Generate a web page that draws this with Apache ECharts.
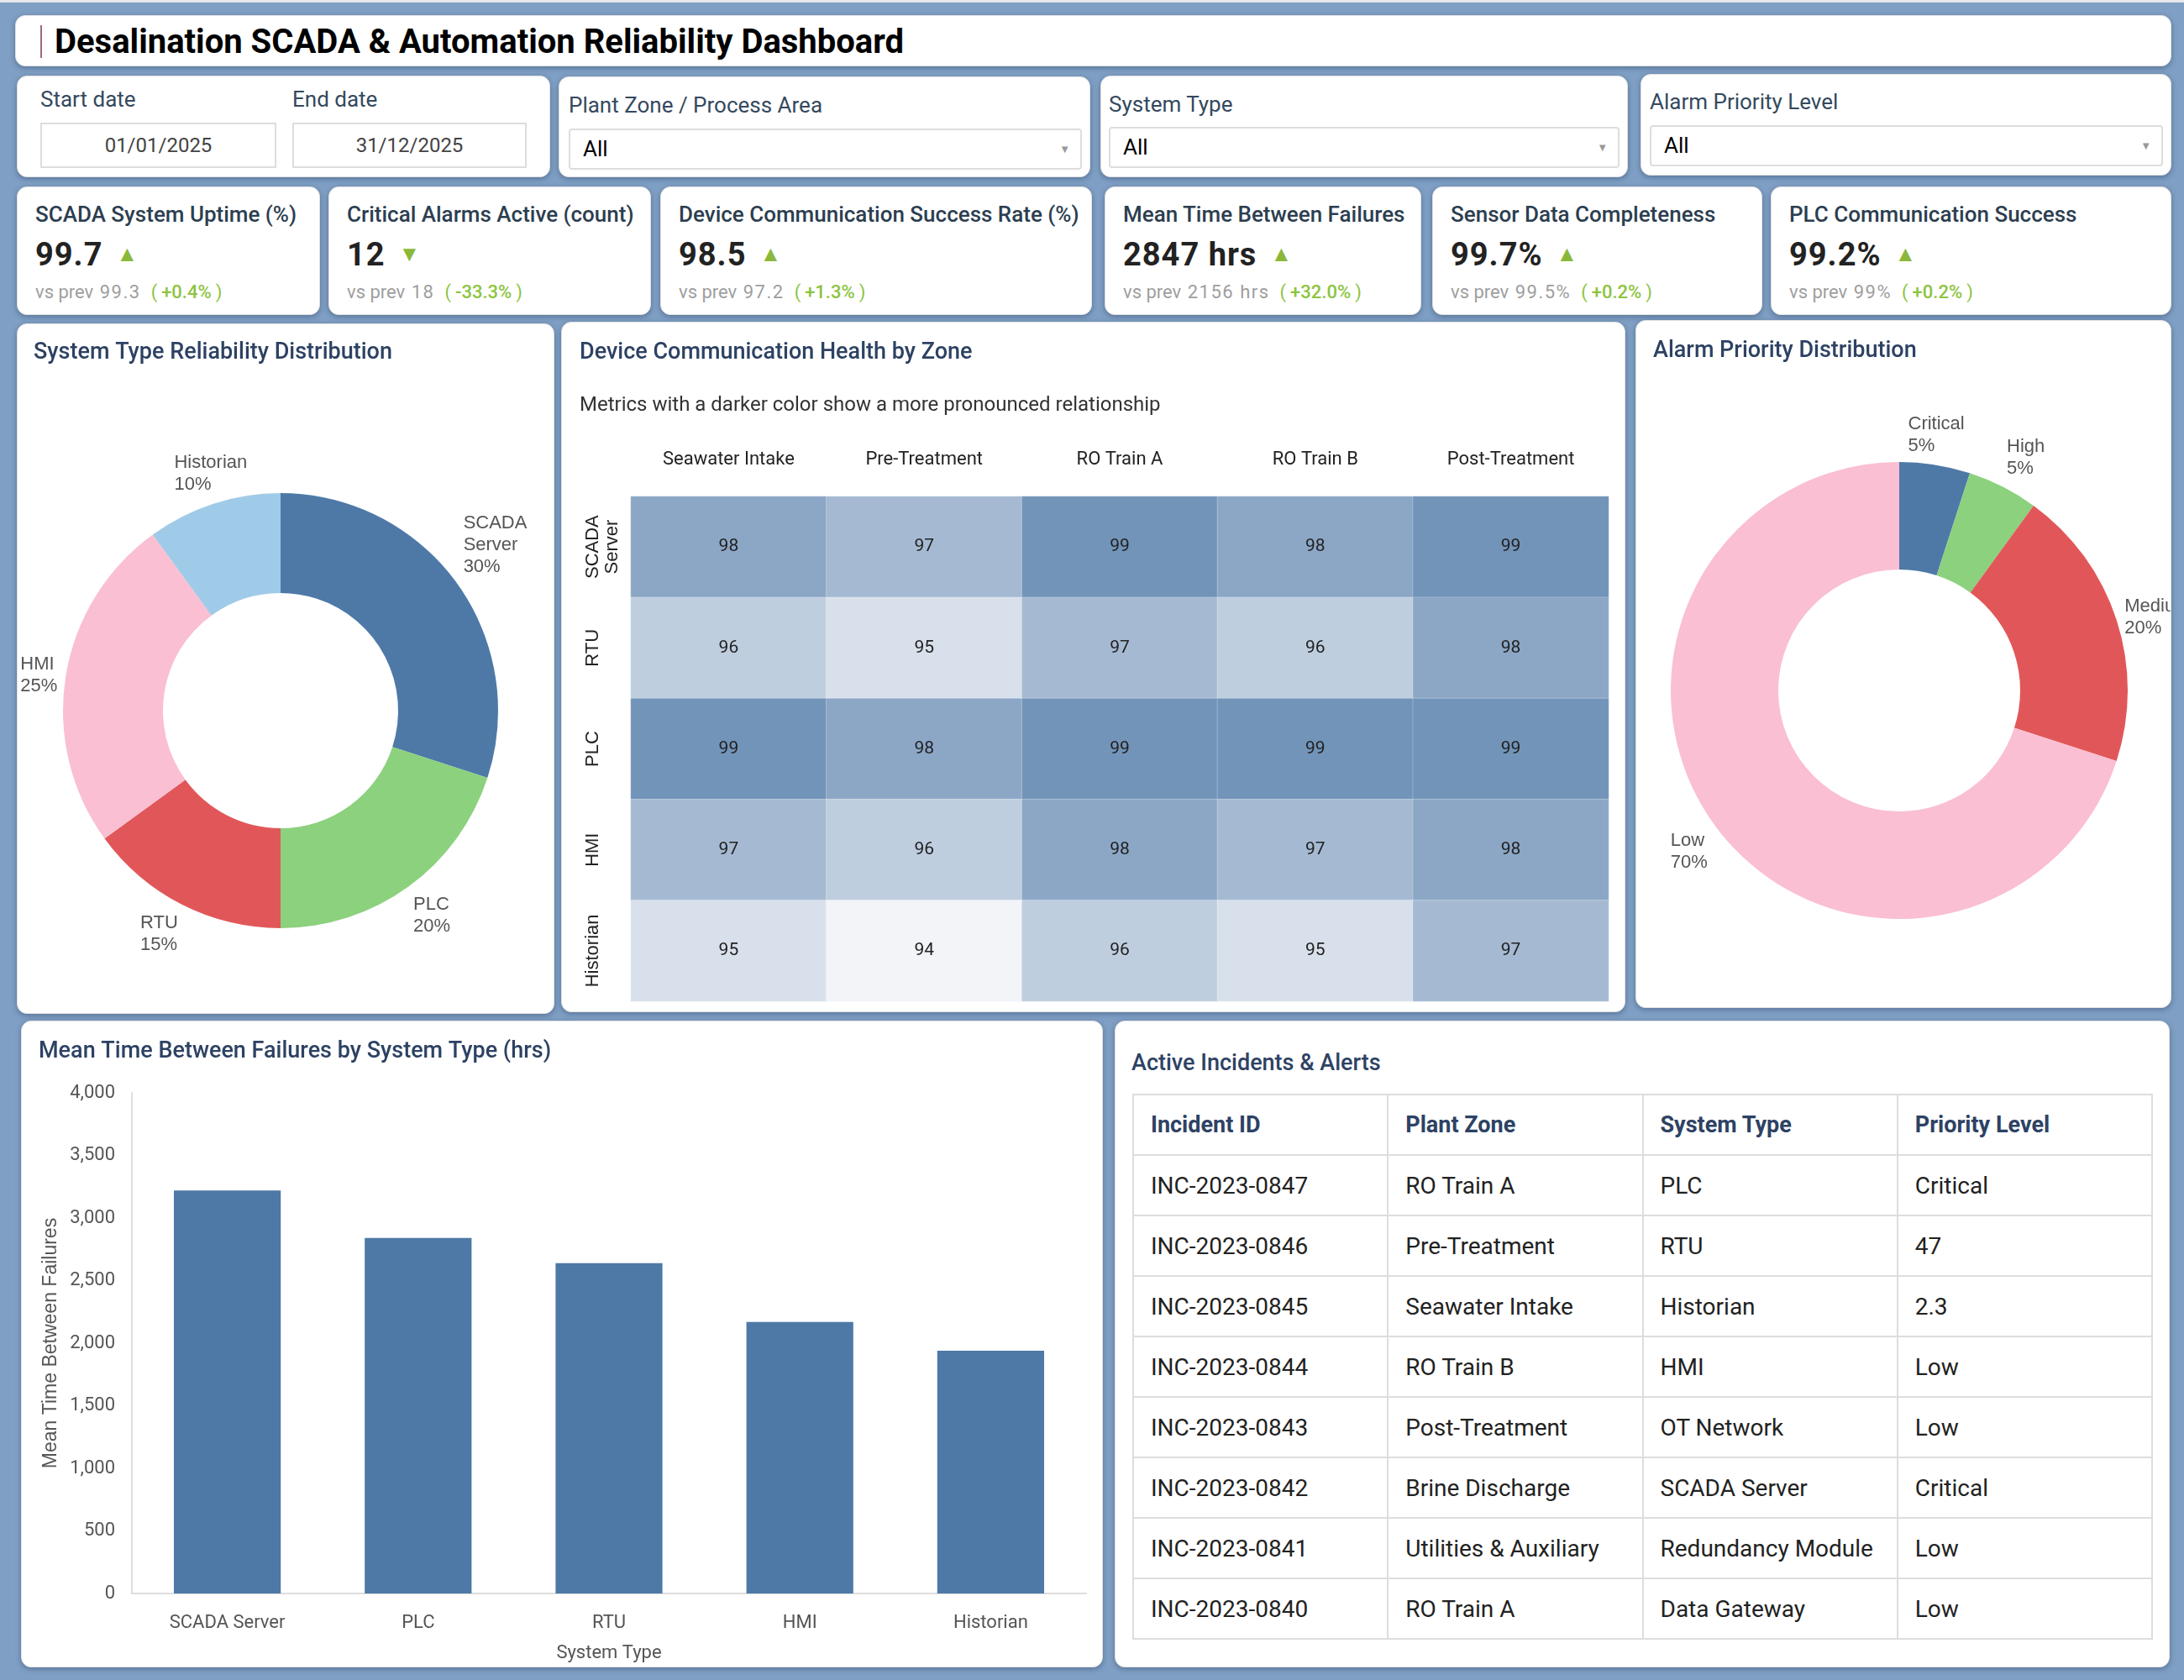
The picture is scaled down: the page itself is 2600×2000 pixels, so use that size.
<!DOCTYPE html>
<html>
<head>
<meta charset="utf-8">
<script src="https://cdn.jsdelivr.net/npm/echarts@6/dist/echarts.min.js"></script>
<style>
  body{margin:0;width:2600px;height:2000px;background:#7f9fc5;font-family:Roboto,sans-serif;position:relative;overflow:hidden}
  .strip{position:absolute;left:0;top:0;width:2600px;height:3px;background:#e6e8ec}
  .card{position:absolute;background:#fff;border-radius:12px;box-shadow:0 2px 6px rgba(40,60,90,.45);border:1px solid #e2e2e2;box-sizing:border-box;overflow:hidden}
  .abs{position:absolute;white-space:nowrap}
  .flabel{font-size:26px;color:#34495e}
  .dbox{position:absolute;border:2px solid #ddd;box-sizing:border-box;font-size:24px;color:#444;text-align:center}
  .sel{position:absolute;border:2px solid #ddd;border-radius:4px;box-sizing:border-box;font-size:26px;color:#000}
  .sel .arr{position:absolute;right:12px;top:0;font-size:13px;color:#999}
  .ktitle{font-size:26px;font-weight:500;color:#2c3e50;line-height:28px}
  .kval{font-size:38px;font-weight:700;color:#222;letter-spacing:1px;line-height:40px}
  .ktri{font-size:26px;color:#8bb83a;margin-left:16px;position:relative;top:-5px}
  .kprev{font-size:22px;color:#9e9e9e;line-height:26px}
  .kprev .num{letter-spacing:1.5px;margin-left:2px}
  .kprev .chg{color:#8cc43f;margin-left:12px}
  .kprev .chg b{font-weight:500;margin:0 5px}
  table{border-collapse:collapse;position:absolute;left:20px;top:86px;width:1215px;table-layout:fixed}
  td,th{border:2px solid #ddd;height:70px;padding:0 0 0 20px;text-align:left;font-size:28px;color:#222;font-weight:400}
  th{font-weight:700;color:#2d4263;font-size:27px}
  .ctitle{font-size:27px;font-weight:500;color:#2d4263}
</style>
</head>
<body>
<div class="strip"></div>

<div class="card" style="left:18px;top:18px;width:2567px;height:61px">
  <div class="abs" style="left:29px;top:11px;width:2px;height:39px;background:#9b6b7b"></div>
  <div class="abs" style="left:46px;top:0;line-height:61px;font-size:40px;font-weight:700;color:#000">Desalination SCADA &amp; Automation Reliability Dashboard</div>
</div>

<div class="card" style="left:20px;top:90px;width:635px;height:121px">
  <div class="abs flabel" style="left:27px;top:12px">Start date</div>
  <div class="abs flabel" style="left:327px;top:12px">End date</div>
  <div class="dbox" style="left:27px;top:55px;width:281px;height:54px;line-height:50px">01/01/2025</div>
  <div class="dbox" style="left:327px;top:55px;width:279px;height:54px;line-height:50px">31/12/2025</div>
</div>
<div class="card" style="left:665px;top:91px;width:633px;height:120px">
  <div class="abs flabel" style="left:11px;top:18px">Plant Zone / Process Area</div>
  <div class="sel" style="left:11px;top:61px;width:611px;height:49px;line-height:45px"><span style="margin-left:15px">All</span><span class="arr">&#9660;</span></div>
</div>
<div class="card" style="left:1310px;top:90px;width:628px;height:121px">
  <div class="abs flabel" style="left:9px;top:18px">System Type</div>
  <div class="sel" style="left:9px;top:60px;width:608px;height:49px;line-height:45px"><span style="margin-left:15px">All</span><span class="arr">&#9660;</span></div>
</div>
<div class="card" style="left:1953px;top:88px;width:632px;height:121px">
  <div class="abs flabel" style="left:10px;top:17px">Alarm Priority Level</div>
  <div class="sel" style="left:10px;top:60px;width:611px;height:49px;line-height:45px"><span style="margin-left:15px">All</span><span class="arr">&#9660;</span></div>
</div>

<div id="kpis"></div>

<div class="card" id="pieSystem" style="left:20px;top:385px;width:640px;height:822px"></div>
<div class="card" id="heat" style="left:668px;top:383px;width:1267px;height:822px"></div>
<div class="card" id="pieAlarm" style="left:1947px;top:381px;width:638px;height:819px"></div>
<div class="card" id="bars" style="left:25px;top:1215px;width:1288px;height:770px"></div>
<div class="card" id="incidents" style="left:1327px;top:1215px;width:1256px;height:770px">
  <div class="abs ctitle" style="left:19px;top:33px">Active Incidents &amp; Alerts</div>
</div>

<script>
// KPI tiles
const kpiTitles = ["SCADA System Uptime (%)", "Critical Alarms Active (count)", "Device Communication Success Rate (%)",
                   "Mean Time Between Failures", "Sensor Data Completeness", "PLC Communication Success"];
const kpiValues = ["99.7", "12", "98.5", "2847 hrs", "99.7%", "99.2%"];
const kpiPrev   = ["99.3", "18", "97.2", "2156 hrs", "99.5%", "99%"];
const kpiChange = ["+0.4%", "-33.3%", "+1.3%", "+32.0%", "+0.2%", "+0.2%"];
const kpiUp     = [true, false, true, true, true, true];
const kpiBoxes  = [[20,361],[391,384],[786,514],[1315,377],[1705,393],[2108,477]];

// donut: system type share
const systemTypes = ["SCADA Server", "PLC", "RTU", "HMI", "Historian"];
const systemShare = [30, 20, 15, 25, 10];
const systemColors = ["#4e79a7", "#8cd17d", "#e15759", "#fabfd2", "#a0cbe8"];

// donut: alarm priority
const alarmLevels = ["Critical", "High", "Medium", "Low"];
const alarmShare  = [5, 5, 20, 70];
const alarmColors = ["#4e79a7", "#8cd17d", "#e15759", "#fabfd2"];

// heatmap
const zones = ["Seawater Intake", "Pre-Treatment", "RO Train A", "RO Train B", "Post-Treatment"];
const heatRows = ["SCADA\nServer", "RTU", "PLC", "HMI", "Historian"];
const heatValues = [
  [98, 97, 99, 98, 99],
  [96, 95, 97, 96, 98],
  [99, 98, 99, 99, 99],
  [97, 96, 98, 97, 98],
  [95, 94, 96, 95, 97]
];

// bars: MTBF by system type
const mtbfHours = [3220, 2840, 2640, 2170, 1940];

// incidents table
const incidentIds  = ["INC-2023-0847","INC-2023-0846","INC-2023-0845","INC-2023-0844","INC-2023-0843","INC-2023-0842","INC-2023-0841","INC-2023-0840"];
const incidentZone = ["RO Train A","Pre-Treatment","Seawater Intake","RO Train B","Post-Treatment","Brine Discharge","Utilities & Auxiliary","RO Train A"];
const incidentSys  = ["PLC","RTU","Historian","HMI","OT Network","SCADA Server","Redundancy Module","Data Gateway"];
const incidentPrio = ["Critical","47","2.3","Low","Low","Critical","Low","Low"];

const kpiWrap = document.getElementById("kpis");
kpiTitles.forEach((t,i)=>{
  const d = document.createElement("div");
  d.className = "card";
  d.style.cssText = `left:${kpiBoxes[i][0]}px;top:222px;width:${kpiBoxes[i][1]}px;height:153px`;
  d.innerHTML =
    `<div class="abs ktitle" style="left:21px;top:18px">${t}</div>
     <div class="abs kval" style="left:21px;top:60px">${kpiValues[i]}<span class="ktri">${kpiUp[i] ? "&#9650;" : "&#9660;"}</span></div>
     <div class="abs kprev" style="left:21px;top:112px">vs prev <span class="num">${kpiPrev[i]}</span><span class="chg">(<b>${kpiChange[i]}</b>)</span></div>`;
  kpiWrap.appendChild(d);
});

const tbl = document.createElement("table");
let html = "<tr><th>Incident ID</th><th>Plant Zone</th><th>System Type</th><th>Priority Level</th></tr>";
incidentIds.forEach((id,i)=>{
  html += `<tr><td>${id}</td><td>${incidentZone[i].replace("&","&amp;")}</td><td>${incidentSys[i]}</td><td>${incidentPrio[i]}</td></tr>`;
});
tbl.innerHTML = html;
document.getElementById("incidents").appendChild(tbl);

const titleStyle = {fontFamily:"Roboto", fontSize:27, fontWeight:500, color:"#2d4263"};
const pieLabel = {
  show:true, position:"outside", overflow:"none", fontFamily:"Liberation Sans", fontSize:22, lineHeight:26, color:"#555",
  formatter: p => p.name.replace(" ", "\n") + "\n" + Math.round(p.percent) + "%"
};

// outside labels: nearest corner of the text block just past the slice's outer edge,
// lines always left aligned
function cornerLabels(values, cx, cy, r) {
  const total = values.reduce((a,b)=>a+b, 0);
  const before = values.map((v,i)=>values.slice(0,i).reduce((a,b)=>a+b, 0));
  return params => {
    const i = params.dataIndex;
    const w = params.labelRect.width;
    const mid = (before[i] + values[i]/2) / total * Math.PI * 2;
    const dx = Math.sin(mid), dy = -Math.cos(mid);
    const ax = cx + (r + 10) * dx;
    const shift = Math.abs(dx) < 0.35 ? w / 2 : (dx > 0 ? 0 : w);
    return {
      x: ax - shift,
      y: cy + (r + 10) * dy,
      align: "left",
      verticalAlign: Math.abs(dy) < 0.35 ? "middle" : (dy < 0 ? "bottom" : "top")
    };
  };
}

// system type donut
echarts.init(document.getElementById("pieSystem")).setOption({
  animation:false,
  title:{text:"System Type Reliability Distribution", left:19, top:21, padding:0, textStyle:titleStyle},
  series:[{
    type:"pie", center:[313,460], radius:[140,259], startAngle:90,
    label:pieLabel, labelLine:{show:false, length:10, length2:0},
    labelLayout: cornerLabels(systemShare, 313, 460, 259),
    emphasis:{disabled:true},
    data: systemTypes.map((n,i)=>({name:n, value:systemShare[i], itemStyle:{color:systemColors[i]}}))
  }]
});

// alarm donut
echarts.init(document.getElementById("pieAlarm")).setOption({
  animation:false,
  title:{text:"Alarm Priority Distribution", left:20, top:23, padding:0, textStyle:titleStyle},
  series:[{
    type:"pie", center:[313,440], radius:[144,272], startAngle:90,
    label:pieLabel, labelLine:{show:false, length:10, length2:0},
    labelLayout: cornerLabels(alarmShare, 313, 440, 272),
    emphasis:{disabled:true},
    data: alarmLevels.map((n,i)=>({name:n, value:alarmShare[i], itemStyle:{color:alarmColors[i]}}))
  }]
});

// heatmap
const heatData = [];
heatValues.forEach((row,r)=>row.forEach((v,c)=>heatData.push([c,r,v])));
echarts.init(document.getElementById("heat")).setOption({
  animation:false,
  title:[
    {text:"Device Communication Health by Zone", left:21, top:23, padding:0, textStyle:titleStyle},
    {text:"Metrics with a darker color show a more pronounced relationship", left:21, top:87, padding:0,
     textStyle:{fontFamily:"Roboto", fontSize:24, fontWeight:400, color:"#333"}}
  ],
  grid:{left:82, top:207, width:1164, height:601},
  xAxis:{type:"category", data:zones, position:"top",
    axisLine:{show:false}, axisTick:{show:false},
    axisLabel:{fontFamily:"Roboto", fontSize:22, color:"#222", margin:33}},
  yAxis:{type:"category", data:heatRows, inverse:true,
    axisLine:{show:false}, axisTick:{show:false},
    axisLabel:{fontFamily:"Liberation Sans", fontSize:22, lineHeight:23, color:"#222", rotate:90,
      verticalAlign:"top", margin:57}},
  visualMap:{show:false, min:94, max:99, inRange:{color:["#f2f4f8","#7294b9"]}},
  series:[{
    type:"heatmap", data:heatData,
    itemStyle:{borderWidth:1, borderColor:"rgba(255,255,255,0.25)"},
    label:{show:true, fontFamily:"Roboto", fontSize:21, color:"#222"},
    emphasis:{disabled:true}
  }]
});

// MTBF bars
echarts.init(document.getElementById("bars")).setOption({
  animation:false,
  title:{text:"Mean Time Between Failures by System Type (hrs)", left:20, top:23, padding:0, textStyle:titleStyle},
  grid:{left:131, top:85, width:1136, height:597},
  xAxis:{type:"category", data:systemTypes, name:"System Type", nameLocation:"middle", nameGap:60,
    nameTextStyle:{fontFamily:"Roboto", fontSize:22, color:"#555"},
    axisLine:{lineStyle:{color:"#ddd", width:2}}, axisTick:{show:false},
    axisLabel:{fontFamily:"Roboto", fontSize:22, color:"#555", margin:24}},
  yAxis:{type:"value", min:0, max:4000, interval:500, name:"Mean Time Between Failures",
    nameLocation:"middle", nameGap:84,
    nameTextStyle:{fontFamily:"Liberation Sans", fontSize:23, color:"#555"},
    axisLine:{show:true, lineStyle:{color:"#ddd", width:2}}, axisTick:{show:false}, splitLine:{show:false},
    axisLabel:{fontFamily:"Roboto", fontSize:22, color:"#555", margin:20,
      formatter: v => v.toLocaleString("en-US")}},
  series:[{type:"bar", data:mtbfHours, barWidth:"56%", itemStyle:{color:"#4e79a7"}}]
});
</script>
</body>
</html>
